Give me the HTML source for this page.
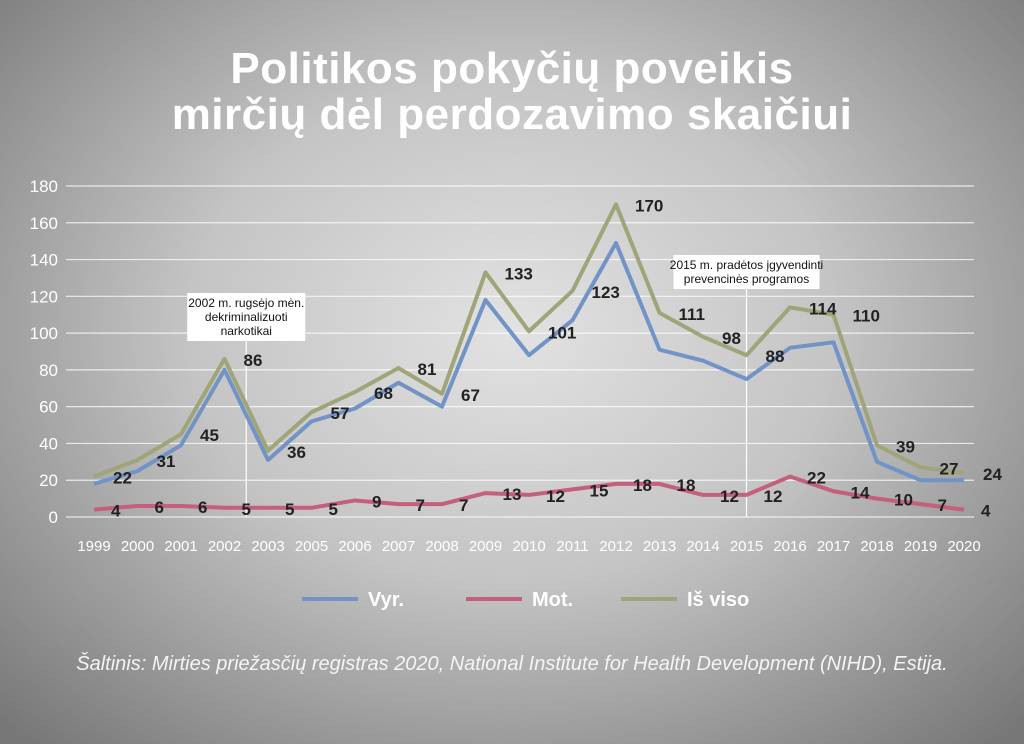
<!DOCTYPE html>
<html><head><meta charset="utf-8"><style>
html,body{margin:0;padding:0}
body{width:1024px;height:744px;overflow:hidden;background:radial-gradient(ellipse 720px 560px at 512px 330px,#e2e2e2 0%,#c4c4c4 45%,#8c8c8c 85%,#777 100%);font-family:"Liberation Sans",sans-serif;position:relative}
h1{position:absolute;top:46px;left:0;width:1024px;margin:0;text-align:center;color:#fff;font-size:44px;line-height:46px;font-weight:bold;letter-spacing:0.5px}
.src{position:absolute;top:653px;left:0;width:1024px;text-align:center;color:#f4f4f4;font-style:italic;font-size:20px}
svg{position:absolute;left:0;top:0}
</style></head><body>
<h1>Politikos pokyčių poveikis<br>mirčių dėl perdozavimo skaičiui</h1>
<svg id="c" width="1024" height="744"></svg>
<div class="src">Šaltinis: Mirties priežasčių registras 2020, National Institute for Health Development (NIHD), Estija.</div>
<script>
const years=["1999","2000","2001","2002","2003","2005","2006","2007","2008","2009","2010","2011","2012","2013","2014","2015","2016","2017","2018","2019","2020"];
const vyr=[18,25,39,80,31,52,59,73,60,118,88,107,149,91,85,75,92,95,30,20,20];
const mot=[4,6,6,5,5,5,9,7,7,13,12,15,18,18,12,12,22,14,10,7,4];
const total=[22,31,45,86,36,57,68,81,67,133,101,123,170,111,98,88,114,110,39,27,24];
const yTicks=[0,20,40,60,80,100,120,140,160,180];
const NS="http://www.w3.org/2000/svg";
const svg=document.getElementById('c');
const X=i=>94+i*43.5;
const Y=v=>517-v*1.839;
function mk(t,a,txt){const e=document.createElementNS(NS,t);for(const k in a)e.setAttribute(k,a[k]);if(txt!=null)e.textContent=txt;svg.appendChild(e);return e;}
yTicks.forEach(v=>{
  const g=mk('line',{x1:66,x2:974,y1:Y(v),y2:Y(v),stroke:'#fff','stroke-opacity':0.75,'stroke-width':1.2});
  
  
  const t=mk('text',{x:58,y:Y(v)+6,'text-anchor':'end',fill:'#fff','font-size':17},v);
  
  
});
years.forEach((y,i)=>{
  const t=mk('text',{x:X(i),y:551,'text-anchor':'middle',fill:'#fff','font-size':15},y);
  
  
});
function note(xi,lines,w,top){
  const x=xi;
  const l=mk('line',{x1:x,x2:x,y1:top+lines.length*14+4,y2:517,stroke:'#fff','stroke-width':1.2});
  
  
  const r=mk('rect',{x:x-w/2,y:top,width:w,height:lines.length*14+6,fill:'#fff'});
  
  
  lines.forEach((s,k)=>{const t=mk('text',{x:x,y:top+14+k*14,'text-anchor':'middle',fill:'#111','font-size':12},s);
    
    });
}
note((X(3)+X(4))/2,["2002 m. rugsėjo mėn.","dekriminalizuoti","narkotikai"],118,293);
note(X(15),["2015 m. pradėtos įgyvendinti","prevencinės programos"],146,255);
function series(vals,color,name){
  const p=mk('polyline',{points:vals.map((v,i)=>X(i)+','+Y(v)).join(' '),fill:'none',stroke:color,'stroke-width':4,'stroke-linejoin':'round'});
  
  
}
series(mot,'#c45f7c','line-mot');
series(vyr,'#7193c6','line-vyr');
series(total,'#a0a479','line-is-viso');
total.forEach((v,i)=>{const t=mk('text',{x:X(i)+19,y:Y(v)+7,fill:'#222','font-size':17,'font-weight':'bold'},v);
  
  });
mot.forEach((v,i)=>{const t=mk('text',{x:X(i)+17,y:Y(v)+7,fill:'#222','font-size':17,'font-weight':'bold'},v);
  
  });
[[302,'#7193c6','Vyr.'],[466,'#c45f7c','Mot.'],[621,'#a0a479','Iš viso']].forEach(([x,c,s])=>{
  const l=mk('line',{x1:x,x2:x+56,y1:599,y2:599,stroke:c,'stroke-width':4});
  
  
  const t=mk('text',{x:x+66,y:606,fill:'#fff','font-size':20,'font-weight':'bold'},s);
  
  
});
</script>
</body></html>
